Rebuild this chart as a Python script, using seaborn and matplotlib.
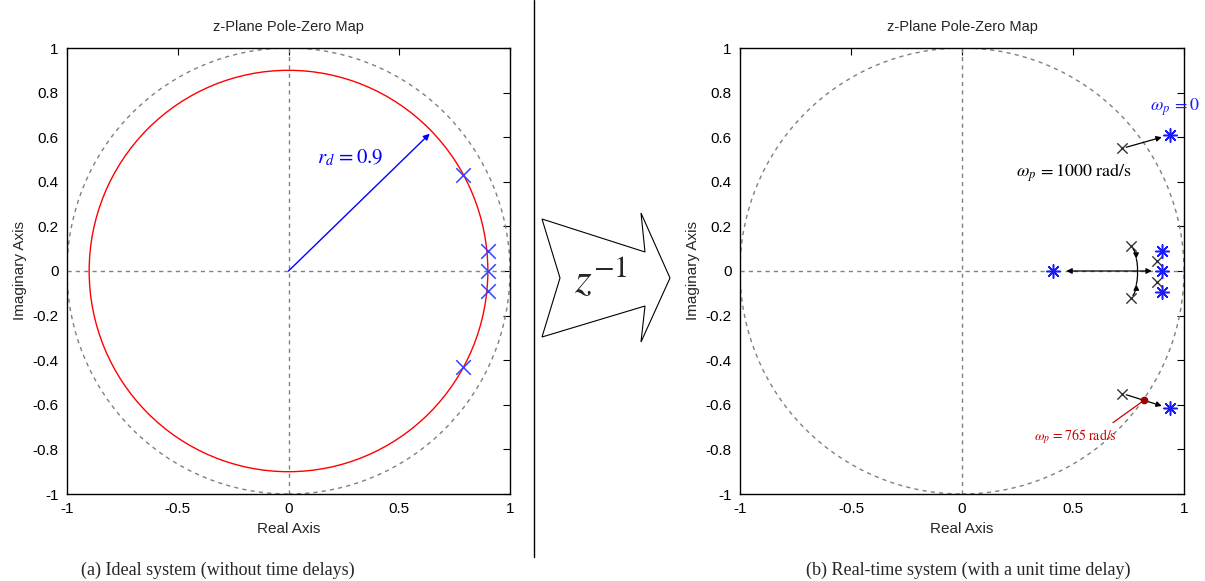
import numpy as np
import pandas as pd
import matplotlib
matplotlib.use("Agg")
import matplotlib.pyplot as plt
import seaborn as sns
from matplotlib.patches import Circle, Polygon, FancyArrowPatch
from matplotlib.lines import Line2D
from matplotlib.ticker import FormatStrFormatter, FuncFormatter

# ---------------- data ----------------
title_text = "z-Plane Pole-Zero Map"
x_ticks = [-1, -0.5, 0, 0.5, 1]
y_ticks = [-1, -0.8, -0.6, -0.4, -0.2, 0, 0.2, 0.4, 0.6, 0.8, 1]

# (a) ideal system poles
ideal_real = [0.79, 0.90, 0.90, 0.90, 0.79]
ideal_imag = [0.43, 0.09, 0.00, -0.09, -0.43]
rd_value = 0.9
rd_angle_deg = 44

# (b) real-time system: poles at omega_p = 1000 rad/s (x) and omega_p = 0 (*)
x_real = [0.72, 0.76, 0.88, 0.88, 0.76, 0.72]
x_imag = [0.55, 0.11, 0.045, -0.05, -0.12, -0.55]
star_real = [0.935, 0.41, 0.90, 0.90, 0.90, 0.935]
star_imag = [0.61, 0.00, 0.09, 0.00, -0.095, -0.615]
crit_real, crit_imag = 0.82, -0.58     # omega_p = 765 rad/s (on unit circle)
meet_real = 0.79                       # where complex pair meets real axis

captions = ["(a) Ideal system (without time delays)",
            "(b) Real-time system (with a unit time delay)"]

# ---------------- style ----------------
sns.set_style("white")
plt.rcParams["font.family"] = ["Liberation Sans", "DejaVu Sans"]
plt.rcParams["mathtext.fontset"] = "stix"

W, H = 1205, 581
fig = plt.figure(figsize=(W / 100, H / 100), dpi=100)

def px_axes(x0, x1, ytop, ybot):
    return fig.add_axes([x0 / W, 1 - ybot / H, (x1 - x0) / W, (ybot - ytop) / H])

axL = px_axes(67, 510, 48, 494)
axR = px_axes(740, 1184, 48, 494)

GRAY = "#808080"

def base(ax):
    ax.set_xlim(-1, 1)
    ax.set_ylim(-1, 1)
    ax.set_xticks(x_ticks)
    ax.set_yticks(y_ticks)
    fmt = FuncFormatter(lambda v, p: ("%g" % v))
    ax.xaxis.set_major_formatter(fmt)
    ax.yaxis.set_major_formatter(fmt)
    ax.tick_params(direction="in", length=5, width=0.8, top=True, right=True,
                   labelsize=11, colors="black", pad=6)
    for s in ax.spines.values():
        s.set_visible(True)
        s.set_color("black")
        s.set_linewidth(1.0)
    ax.axhline(0, color=GRAY, ls=(0, (3, 3)), lw=1, zorder=1)
    ax.axvline(0, color=GRAY, ls=(0, (3, 3)), lw=1, zorder=1)
    ax.add_patch(Circle((0, 0), 1.0, fill=False, ec=GRAY, ls=(0, (3, 3)), lw=1, zorder=1))
    ax.set_title(title_text, fontsize=10.5, pad=12)
    ax.set_xlabel("Real Axis", fontsize=11, labelpad=4)
    ax.set_ylabel("Imaginary Axis", fontsize=11, labelpad=4)
    ax.set_aspect("auto")

base(axL)
base(axR)

# ---- left panel ----
axL.add_patch(Circle((0, 0), rd_value, fill=False, ec="red", lw=1.0, zorder=2))
dfL = pd.DataFrame({"re": ideal_real, "im": ideal_imag})
sns.scatterplot(data=dfL, x="re", y="im", marker="x", s=110, color="#3344ff",
                linewidth=1.1, ax=axL, zorder=4)
ang = np.deg2rad(rd_angle_deg)
tip = (rd_value * np.cos(ang) * 0.985, rd_value * np.sin(ang) * 0.985)
axL.annotate("", xy=tip, xytext=(0, 0),
             arrowprops=dict(arrowstyle="-|>", color="blue", lw=1.0,
                             mutation_scale=9, shrinkA=0, shrinkB=0))
axL.text(0.28, 0.51, r"$r_d\,=0.9$", color="blue", fontsize=15,
         ha="center", va="center")
axL.set_xlabel("Real Axis")
axL.set_ylabel("Imaginary Axis")

# ---- right panel ----
dfX = pd.DataFrame({"re": x_real, "im": x_imag})
dfS = pd.DataFrame({"re": star_real, "im": star_imag})
sns.scatterplot(data=dfX, x="re", y="im", marker="x", s=55, color="#333333",
                linewidth=1.0, ax=axR, zorder=4)
sns.scatterplot(data=dfS, x="re", y="im", marker=(8, 2, 0), s=95, color="#1a1aff",
                linewidth=1.1, ax=axR, zorder=5)
axR.set_xlabel("Real Axis")
axR.set_ylabel("Imaginary Axis")

def arrow(ax, p0, p1, color="black", rad=0.0, head=True, lw=0.9):
    a = FancyArrowPatch(p0, p1, arrowstyle="-|>" if head else "-",
                        mutation_scale=8, color=color, lw=lw,
                        connectionstyle=f"arc3,rad={rad}", shrinkA=0, shrinkB=0,
                        zorder=6)
    ax.add_patch(a)

# upper pair
arrow(axR, (x_real[0] + 0.02, x_imag[0] + 0.005), (star_real[0] - 0.035, star_imag[0] - 0.01))
# lower pair
arrow(axR, (x_real[5] + 0.02, x_imag[5] - 0.005), (star_real[5] - 0.035, star_imag[5] + 0.01))
# near real axis: complex pair curving onto the real axis
mid_up = (meet_real - 0.005, 0.055)
mid_dn = (meet_real - 0.005, -0.06)
arrow(axR, (x_real[1] + 0.01, x_imag[1] - 0.01), mid_up, rad=-0.15)
arrow(axR, mid_up, (meet_real, 0.0), rad=-0.1, head=False)
arrow(axR, (x_real[4] + 0.01, x_imag[4] + 0.01), mid_dn, rad=0.15)
arrow(axR, mid_dn, (meet_real, 0.0), rad=0.1, head=False)
# split along real axis
arrow(axR, (meet_real, 0.0), (star_real[1] + 0.06, 0.0))
arrow(axR, (meet_real, 0.0), (0.855, 0.0))

# critical point
axR.plot([0.68, crit_real], [-0.68, crit_imag], color="#cc0000", lw=0.9, zorder=6)
axR.plot([crit_real], [crit_imag], "o", color="#990000", ms=4.5, zorder=7)

axR.text(0.96, 0.735, r"$\omega_p\,=0$", color="#1a1aff", fontsize=13,
         ha="center", va="center", clip_on=False)
axR.text(0.505, 0.44, r"$\omega_p\,=1000\ \mathrm{rad/s}$", color="black",
         fontsize=13, ha="center", va="center")
axR.text(0.51, -0.745, r"$\omega_p\,=765\ \mathrm{rad/s}$", color="#cc0000",
         fontsize=10, ha="center", va="center")

# ---------------- figure-level decorations ----------------
fig.add_artist(Line2D([534 / W, 534 / W], [1, 1 - 557 / H], color="black", lw=1.0,
                      transform=fig.transFigure))
pts = [(542, 219), (645, 252), (641, 213), (670, 278), (641, 342), (645, 306),
       (542, 337), (560, 278)]
fig.add_artist(Polygon([(x / W, 1 - y / H) for x, y in pts], closed=True,
                       facecolor="white", edgecolor="black", lw=0.8,
                       transform=fig.transFigure))
fig.text(601 / W, 1 - 280 / H, r"$z^{-1}$", fontsize=31, ha="center", va="center")

fig.text(218 / W, 1 - 570 / H, captions[0], fontsize=13, ha="center", va="center",
         family=["Liberation Serif", "DejaVu Serif"])
fig.text(968 / W, 1 - 570 / H, captions[1], fontsize=13, ha="center", va="center",
         family=["Liberation Serif", "DejaVu Serif"])

fig.savefig("out.png", dpi=100, facecolor="white")
